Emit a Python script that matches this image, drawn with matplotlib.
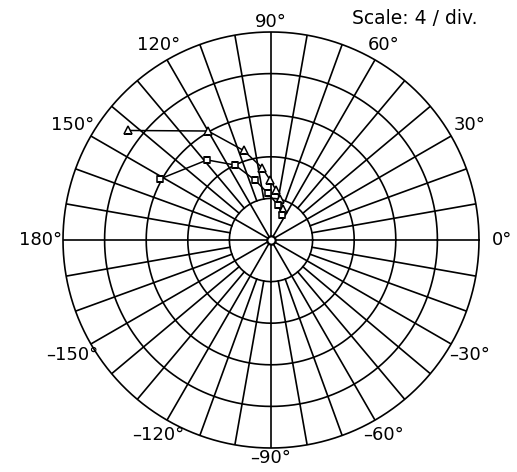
import numpy as np
import matplotlib
matplotlib.use('Agg')
import matplotlib.pyplot as plt

plt.rcParams['font.family'] = ['DejaVu Sans']

## grid settings (scale 4 / div, 5 divisions)
ring_values = [4, 8, 12, 16, 20]
inner_spokes = np.arange(0, 360, 30)   # degrees, inside first ring
outer_spokes = np.arange(0, 360, 10)   # degrees, from first ring outward

angle_labels = ['0°', '30°', '60°', '90°', '120°', '150°', '180°',
                '\u2013150°', '\u2013120°', '\u201390°', '\u201360°', '\u201330°']
label_angles = [0, 30, 60, 90, 120, 150, 180, 210, 240, 270, 300, 330]

## data (angle in degrees, magnitude)
theta_tri = [142.5, 120, 107, 97, 91, 84, 77, 68]
r_tri = [17.3, 12.1, 9.0, 7.0, 5.8, 4.8, 4.0, 3.2]

theta_sq = [151.3, 128.6, 115.7, 105, 93.7, 78.8, 66]
r_sq = [12.2, 9.85, 8.0, 5.97, 4.5, 3.43, 2.63]

#############################################################################

fig = plt.figure(figsize=(5.17, 4.72), dpi=100)
W, H = 517, 472
cx, cy, R = 271, 240, 208
ax = fig.add_axes([(cx - R) / W, (H - cy - R) / H, 2 * R / W, 2 * R / H], projection='polar')
ax.set_ylim(0, 20)
ax.grid(False)
ax.set_xticks([])
ax.set_yticks([])
ax.spines['polar'].set_visible(False)

th = np.linspace(0, 2 * np.pi, 721)
for rv in ring_values:
    ax.plot(th, np.full_like(th, rv), color='black', lw=1.2, clip_on=False)

for a in inner_spokes:
    ax.plot([np.radians(a)] * 2, [0, 4], color='black', lw=1.2)
for a in outer_spokes:
    ax.plot([np.radians(a)] * 2, [4, 20], color='black', lw=1.2)

# data
ax.plot(np.radians(theta_tri), r_tri, color='black', lw=1.1, marker='^',
        ms=6, mfc='white', mec='black', mew=1.1)
ax.plot(np.radians(theta_sq), r_sq, color='black', lw=1.1, marker='s',
        ms=5, mfc='white', mec='black', mew=1.1)
ax.plot([0], [0], marker='o', ms=6, mfc='white', mec='black', mew=1.6)

for a, lab in zip(label_angles, angle_labels):
    rad = np.radians(a)
    rl = 21.0 + 1.2 * abs(np.cos(rad))
    ax.text(rad, rl, lab, ha='center', va='center', fontsize=13, clip_on=False)

fig.text(352 / W, 1 - 18 / H, 'Scale: 4 / div.', ha='left', va='center', fontsize=13.5)

fig.savefig('out.png', dpi=100)
